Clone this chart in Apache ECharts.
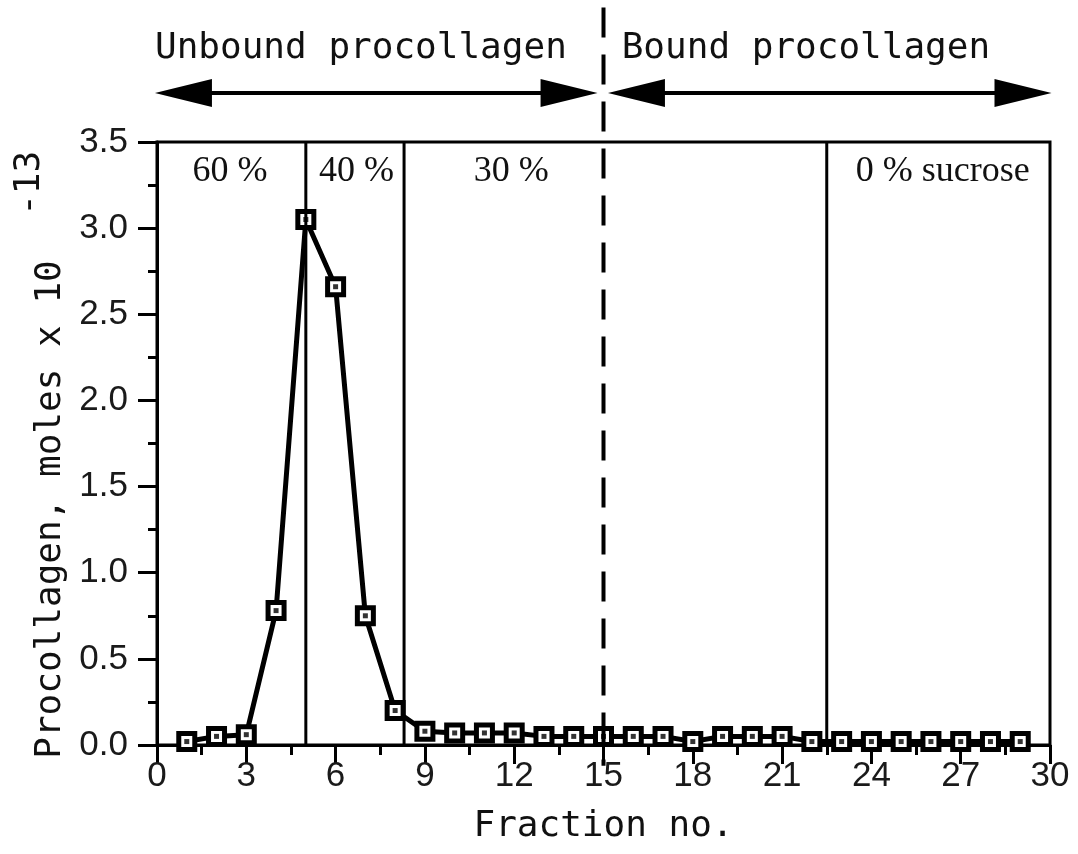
<!DOCTYPE html>
<html><head><meta charset="utf-8">
<script src="https://cdn.jsdelivr.net/npm/echarts@6/dist/echarts.min.js"></script>
<style>html,body{margin:0;padding:0;background:#fff}#c{width:1078px;height:854px}</style>
</head><body><div id="c"></div>
<script>
// ---- data ----
const fractions = [1, 2, 3, 4, 5, 6, 7, 8, 9, 10, 11, 12, 13, 14, 15, 16, 17, 18, 19, 20, 21, 22, 23, 24, 25, 26, 27, 28, 29];
const procollagen = [0.02, 0.05, 0.06, 0.78, 3.05, 2.66, 0.75, 0.20, 0.08, 0.07, 0.07, 0.07, 0.05, 0.05, 0.05,
                     0.05, 0.05, 0.02, 0.05, 0.05, 0.05, 0.02, 0.02, 0.02, 0.02, 0.02, 0.02, 0.02, 0.02];
const sucroseBoundaries = [5, 8.3, 22.5];
const phaseBoundary = 15;
const sucroseLabels = ['60 %', '40 %', '30 %', '0 % sucrose'];
const phaseLabels = ['Unbound procollagen', 'Bound procollagen'];
const xAxisTitle = 'Fraction no.';
const yAxisTitle = 'Procollagen, moles x 10';
const yAxisExponent = '-13';

// ---- layout (data units) ----
const sucroseLabelX = [2.45, 6.7, 11.9, 26.4];
const sucroseLabelY = 3.33;
const phaseLabelX = [6.85, 21.8];
const phaseLabelY = 4.04;
const phaseArrowSpan = [[-0.07, 14.8], [15.15, 30.05]];
const phaseArrowY = 3.785;
const exponentY = 3.26;

const MONO = '"DejaVu Sans Mono", monospace';
const SANS = '"Liberation Sans", Arial, sans-serif';
const SERIF = '"Liberation Serif", "Times New Roman", serif';

const points = fractions.map((f, i) => [f, procollagen[i]]);

function renderAnnotations(params, api) {
  const children = [];
  sucroseBoundaries.forEach(b => {
    const p0 = api.coord([b, 0]), p1 = api.coord([b, 3.5]);
    children.push({type: 'line', shape: {x1: p0[0], y1: p0[1], x2: p1[0], y2: p1[1]},
      style: {stroke: '#000', lineWidth: 3}});
  });
  {
    const p0 = api.coord([phaseBoundary, -0.12]), p1 = api.coord([phaseBoundary, 4.28]);
    children.push({type: 'line', shape: {x1: p0[0], y1: p1[1], x2: p0[0], y2: p0[1]},
      style: {stroke: '#000', lineWidth: 4, lineDash: [30, 17]}});
  }
  const hl = 57, hh = 14;
  phaseArrowSpan.forEach(span => {
    const a = api.coord([span[0], phaseArrowY]), b = api.coord([span[1], phaseArrowY]);
    const y = a[1];
    children.push({type: 'line', shape: {x1: a[0] + hl - 2, y1: y, x2: b[0] - hl + 2, y2: y},
      style: {stroke: '#000', lineWidth: 4}});
    children.push({type: 'polygon', shape: {points: [[a[0], y], [a[0] + hl, y - hh], [a[0] + hl, y + hh]]},
      style: {fill: '#000'}});
    children.push({type: 'polygon', shape: {points: [[b[0], y], [b[0] - hl, y - hh], [b[0] - hl, y + hh]]},
      style: {fill: '#000'}});
  });
  phaseLabels.forEach((t, i) => {
    const p = api.coord([phaseLabelX[i], phaseLabelY]);
    children.push({type: 'text', style: {text: t, x: p[0], y: p[1], align: 'center', verticalAlign: 'middle',
      font: '36px ' + MONO, fill: '#111'}});
  });
  sucroseLabels.forEach((t, i) => {
    const p = api.coord([sucroseLabelX[i], sucroseLabelY]);
    children.push({type: 'text', style: {text: t, x: p[0], y: p[1], align: 'center', verticalAlign: 'middle',
      font: '36px ' + SERIF, fill: '#111'}});
  });
  // exponent of the y-axis title (superscript, rotated like the title)
  const e = api.coord([0, exponentY]);
  children.push({type: 'text', x: e[0] - 127, y: e[1], rotation: Math.PI / 2,
    style: {text: yAxisExponent, x: 0, y: 0, align: 'center', verticalAlign: 'middle',
      font: '36px ' + MONO, fill: '#111'}});
  return {type: 'group', children};
}

const chart = echarts.init(document.getElementById('c'), null, {renderer: 'canvas'});
chart.setOption({
  animation: false,
  backgroundColor: '#fff',
  grid: {left: 157, right: 28, top: 142, bottom: 109, show: true, borderColor: '#000', borderWidth: 3},
  xAxis: {
    type: 'value', min: 0, max: 30, interval: 3,
    name: xAxisTitle, nameLocation: 'middle', nameGap: 64,
    nameTextStyle: {fontFamily: MONO, fontSize: 36, color: '#111'},
    axisLine: {show: true, onZero: false, lineStyle: {color: '#000', width: 3}},
    axisTick: {show: true, inside: false, length: 19, lineStyle: {color: '#000', width: 3}},
    minorTick: {show: true, splitNumber: 2, length: 10, lineStyle: {color: '#000', width: 3}},
    splitLine: {show: false},
    axisLabel: {fontFamily: SANS, fontSize: 35, color: '#1a1a1a', margin: 14}
  },
  yAxis: {
    type: 'value', min: 0, max: 3.5, interval: 0.5,
    name: yAxisTitle,
    nameLocation: 'middle', nameGap: 88, nameRotate: 90,
    nameTextStyle: {fontFamily: MONO, fontSize: 36, color: '#111', padding: [0, 132, 0, 0]},
    axisLine: {show: true, onZero: false, lineStyle: {color: '#000', width: 3}},
    axisTick: {show: true, inside: false, length: 19, lineStyle: {color: '#000', width: 3}},
    minorTick: {show: true, splitNumber: 2, length: 9, lineStyle: {color: '#000', width: 3}},
    splitLine: {show: false},
    axisLabel: {fontFamily: SANS, fontSize: 35, color: '#1a1a1a', margin: 29,
      formatter: v => v.toFixed(1)}
  },
  series: [
    {
      type: 'line', data: points, z: 2,
      symbol: 'rect', symbolSize: 16, showAllSymbol: true,
      lineStyle: {color: '#000', width: 5},
      itemStyle: {color: '#fff', borderColor: '#000', borderWidth: 5},
      emphasis: {disabled: true}
    },
    {
      type: 'scatter', data: points, z: 3,
      symbol: 'rect', symbolSize: 5,
      itemStyle: {color: '#000'},
      emphasis: {disabled: true}
    },
    {
      type: 'custom', data: [[0, 0]], z: 5, clip: false, silent: true,
      renderItem: renderAnnotations
    }
  ]
});
</script>
</body></html>
